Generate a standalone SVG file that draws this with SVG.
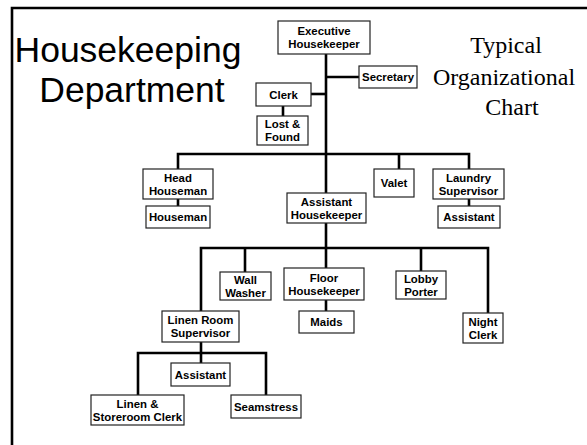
<svg xmlns="http://www.w3.org/2000/svg" width="587" height="445" viewBox="0 0 587 445">
<style>
.box{fill:#fff;stroke:#222;stroke-width:1.2}
.t{font-family:"Liberation Sans",Arial,sans-serif;font-weight:bold;font-size:11.4px;text-anchor:middle;fill:#000}
.ln{fill:none;stroke:#000;stroke-width:2.6}
.title{font-family:"Liberation Sans",Arial,sans-serif;font-size:35.5px;text-anchor:middle;fill:#000}
.sub{font-family:"Liberation Serif","Times New Roman",serif;font-size:24px;text-anchor:middle;fill:#000}
</style>
<rect width="587" height="445" fill="#fff"/>
<path class="ln" d="M12 445 V8 H587"/>
<g id="title">
<text class="title" x="128" y="62">Housekeeping</text>
<text class="title" x="132" y="102">Department</text>
</g>
<g id="subtitle">
<text class="sub" x="506" y="53">Typical</text>
<text class="sub" x="504" y="85">Organizational</text>
<text class="sub" x="512" y="115">Chart</text>
</g>
<g id="connectors">
<path class="ln" d="M326 54 V193"/>
<path class="ln" d="M326 77 H359"/>
<path class="ln" d="M311 94 H326"/>
<path class="ln" d="M283 106 V116"/>
<path class="ln" d="M178 169 V154 H469 V169"/>
<path class="ln" d="M399 154 V169"/>
<path class="ln" d="M178 199 V206"/>
<path class="ln" d="M469 199 V206"/>
<path class="ln" d="M326 223 V268"/>
<path class="ln" d="M201 311 V248 H488 V313"/>
<path class="ln" d="M245 248 V272"/>
<path class="ln" d="M421 248 V271"/>
<path class="ln" d="M326 300 V311"/>
<path class="ln" d="M201 342 V363"/>
<path class="ln" d="M138 395 V353 H266 V395"/>
</g>
<g id="executive"><rect class="box" x="278" y="21" width="92" height="33"/><text class="t" x="324" y="35">Executive</text><text class="t" x="324" y="48">Housekeeper</text></g>
<g id="secretary"><rect class="box" x="359" y="66" width="58" height="22"/><text class="t" x="388" y="81">Secretary</text></g>
<g id="clerk"><rect class="box" x="256" y="83" width="55" height="23"/><text class="t" x="283.5" y="98.5">Clerk</text></g>
<g id="lostfound"><rect class="box" x="257" y="116" width="51" height="29"/><text class="t" x="282.5" y="128">Lost &amp;</text><text class="t" x="282.5" y="141">Found</text></g>
<g id="headhouseman"><rect class="box" x="143" y="169" width="70" height="30"/><text class="t" x="178" y="181.5">Head</text><text class="t" x="178" y="194.5">Houseman</text></g>
<g id="houseman"><rect class="box" x="146" y="206" width="64" height="22"/><text class="t" x="178" y="221">Houseman</text></g>
<g id="valet"><rect class="box" x="374" y="169" width="40" height="28"/><text class="t" x="394" y="187">Valet</text></g>
<g id="laundry"><rect class="box" x="433" y="169" width="71" height="30"/><text class="t" x="468.5" y="181.5">Laundry</text><text class="t" x="468.5" y="194.5">Supervisor</text></g>
<g id="laundryassistant"><rect class="box" x="438" y="206" width="62" height="22"/><text class="t" x="469" y="221">Assistant</text></g>
<g id="assthousekeeper"><rect class="box" x="287" y="193" width="79" height="30"/><text class="t" x="326.5" y="205.5">Assistant</text><text class="t" x="326.5" y="218.5">Housekeeper</text></g>
<g id="wallwasher"><rect class="box" x="220" y="272" width="51" height="28"/><text class="t" x="245.5" y="283.5">Wall</text><text class="t" x="245.5" y="296.5">Washer</text></g>
<g id="floorhousekeeper"><rect class="box" x="284" y="268" width="80" height="32"/><text class="t" x="324" y="281.5">Floor</text><text class="t" x="324" y="294.5">Housekeeper</text></g>
<g id="maids"><rect class="box" x="299" y="311" width="55" height="22"/><text class="t" x="326.5" y="326">Maids</text></g>
<g id="lobbyporter"><rect class="box" x="396" y="271" width="50" height="28"/><text class="t" x="421" y="282.5">Lobby</text><text class="t" x="421" y="295.5">Porter</text></g>
<g id="nightclerk"><rect class="box" x="463" y="313" width="40" height="30"/><text class="t" x="483" y="325.5">Night</text><text class="t" x="483" y="338.5">Clerk</text></g>
<g id="linenroom"><rect class="box" x="162" y="311" width="77" height="31"/><text class="t" x="200.5" y="324">Linen Room</text><text class="t" x="200.5" y="337">Supervisor</text></g>
<g id="linenassistant"><rect class="box" x="171" y="363" width="59" height="23"/><text class="t" x="200.5" y="378.5">Assistant</text></g>
<g id="storeroomclerk"><rect class="box" x="91" y="395" width="93" height="30"/><text class="t" x="137.5" y="407.5">Linen &amp;</text><text class="t" x="137.5" y="420.5">Storeroom Clerk</text></g>
<g id="seamstress"><rect class="box" x="231" y="395" width="70" height="23"/><text class="t" x="266" y="410.5">Seamstress</text></g>
</svg>
